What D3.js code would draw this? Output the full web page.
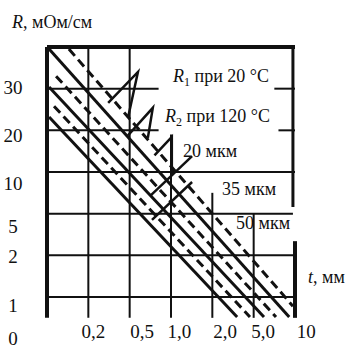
<!DOCTYPE html>
<html lang="ru">
<head>
<meta charset="utf-8">
<title>R vs t</title>
<script src="https://cdn.jsdelivr.net/npm/d3@7"></script>
<style>
  body { margin: 0; background: #fff; }
</style>
</head>
<body>
<script>
// chart size
var w = 357, h = 349;
var serif = "'Liberation Serif', 'Times New Roman', 'DejaVu Serif', serif";

// tick labels and where they sit (in grid cells)
var xTickLabels = ["0,2", "0,5", "1,0", "2,0", "5,0", "10"];
var xTickPos = [1.12, 2.3, 3.2, 4.31, 5.23, 6.27];
var yTickLabels = ["30", "20", "10", "5", "2", "1", "0"];
var yTickPos = [0.97, 2.12, 3.28, 4.31, 5.03, 6.2, 7.0];

// foil thickness of each line pair
var thickness = ["20 мкм", "35 мкм", "50 мкм"];

// R1 at 20 °C (solid) : start and end points [u, v] in grid cells
var r1Start = [[0.05, 0.05], [0.05, 0.96], [0.05, 1.68]];
var r1End   = [[5.86, 6.48], [5.25, 6.48], [4.60, 6.48]];
// R2 at 120 °C (dashed)
var r2Start = [[0.53, 0.05], [0.22, 0.70], [0.17, 1.42]];
var r2End   = [[5.95, 6.22], [5.54, 6.48], [4.91, 6.48]];

// leader lines from labels to the curves
var leaders = [
  [[1.48, 1.34], [2.2, 0.6], [1.96, 1.7]],
  [[1.96, 2.12], [2.56, 1.46], [2.44, 2.18]],
  [[2.6, 2.6], [3.02, 2.16], [3.02, 3.07]],
  [[3.51, 2.62], [2.51, 3.56]],
  [[3.51, 3.24], [2.54, 4.15]]
];

// grid lines: position, from, to (grid cells)
var vGrid = [[1, 0, 6.5], [2, 0, 6.5], [3, 2.1, 6.5], [4, 3.5, 6.5], [5, 4.0, 6.5]];
var hGrid = [[1, 0, 2.7], [1, 5.5, 6], [2, 0, 2.7], [2, 5.6, 6], [3, 0, 6], [4, 0, 5.95], [5, 0, 6], [6, 0, 6]];

var x = d3.scaleLinear().domain([0, 6]).range([47, 295]);
var y = d3.scaleLinear().domain([0, 6]).range([47, 297]);

var svg = d3.select("body").append("svg")
  .attr("width", w)
  .attr("height", h)
  .attr("font-family", serif);

// grid
svg.selectAll(".vg").data(vGrid).enter().append("line")
  .attr("x1", function(d) { return x(d[0]); })
  .attr("x2", function(d) { return x(d[0]); })
  .attr("y1", function(d) { return y(d[1]); })
  .attr("y2", function(d) { return y(d[2]); })
  .attr("stroke", "#111").attr("stroke-width", 2);

svg.selectAll(".hg").data(hGrid).enter().append("line")
  .attr("y1", function(d) { return y(d[0]); })
  .attr("y2", function(d) { return y(d[0]); })
  .attr("x1", function(d) { return x(d[1]); })
  .attr("x2", function(d) { return x(d[2]); })
  .attr("stroke", "#111").attr("stroke-width", 2);

// frame
svg.append("line").attr("x1", x(0)).attr("x2", x(6)).attr("y1", y(0)).attr("y2", y(0))
  .attr("stroke", "#111").attr("stroke-width", 4);
svg.append("line").attr("x1", x(0)).attr("x2", x(0)).attr("y1", y(0)).attr("y2", y(6.5))
  .attr("stroke", "#111").attr("stroke-width", 4);
svg.append("line").attr("x1", x(5.95)).attr("x2", x(5.95)).attr("y1", y(0)).attr("y2", y(3.84))
  .attr("stroke", "#111").attr("stroke-width", 3);
svg.append("line").attr("x1", x(6)).attr("x2", x(6)).attr("y1", y(4.66)).attr("y2", y(6.5))
  .attr("stroke", "#111").attr("stroke-width", 4);

// curves
function drawSet(starts, ends, dashed) {
  svg.selectAll(null).data(starts).enter().append("line")
    .attr("x1", function(d) { return x(d[0]); })
    .attr("y1", function(d) { return y(d[1]); })
    .attr("x2", function(d, i) { return x(ends[i][0]); })
    .attr("y2", function(d, i) { return y(ends[i][1]); })
    .attr("stroke", "#111")
    .attr("stroke-width", 3)
    .attr("stroke-dasharray", dashed ? "9,5" : null);
}
drawSet(r1Start, r1End, false);
drawSet(r2Start, r2End, true);

var line = d3.line().x(function(d) { return x(d[0]); }).y(function(d) { return y(d[1]); });
svg.selectAll(".leader").data(leaders).enter().append("path")
  .attr("d", line)
  .attr("fill", "none")
  .attr("stroke", "#111")
  .attr("stroke-width", 2.5);

// tick labels
svg.selectAll(".xt").data(xTickLabels).enter().append("text")
  .attr("x", function(d, i) { return x(xTickPos[i]); })
  .attr("y", 338)
  .attr("text-anchor", "middle")
  .attr("font-size", "19px")
  .attr("fill", "#111")
  .text(function(d) { return d; });

svg.selectAll(".yt").data(yTickLabels).enter().append("text")
  .attr("x", 13)
  .attr("y", function(d, i) { return y(yTickPos[i]) + 6.5; })
  .attr("text-anchor", "middle")
  .attr("font-size", "19px")
  .attr("fill", "#111")
  .text(function(d) { return d; });

// axis titles
var yt = svg.append("text").attr("x", 12).attr("y", 28).attr("font-size", "18px").attr("fill", "#111");
yt.append("tspan").attr("font-style", "italic").text("R");
yt.append("tspan").text(", мОм/см");

var xt = svg.append("text").attr("x", 308).attr("y", 283).attr("font-size", "18px").attr("fill", "#111");
xt.append("tspan").attr("font-style", "italic").text("t");
xt.append("tspan").text(", мм");

// series labels
function rLabel(px, py, sub, rest) {
  var t = svg.append("text").attr("x", px).attr("y", py).attr("font-size", "18px").attr("fill", "#111");
  t.append("tspan").attr("font-style", "italic").text("R");
  t.append("tspan").attr("font-size", "12px").attr("dy", 4).text(sub);
  t.append("tspan").attr("dy", -4).text(" " + rest);
}
rLabel(173, 82, "1", "при 20 °C");
rLabel(165, 122, "2", "при 120 °C");

var thickPos = [[183, 157], [222, 195], [236, 229]];
svg.selectAll(".th").data(thickness).enter().append("text")
  .attr("x", function(d, i) { return thickPos[i][0]; })
  .attr("y", function(d, i) { return thickPos[i][1]; })
  .attr("font-size", "18px")
  .attr("fill", "#111")
  .text(function(d) { return d; });
</script>
</body>
</html>
